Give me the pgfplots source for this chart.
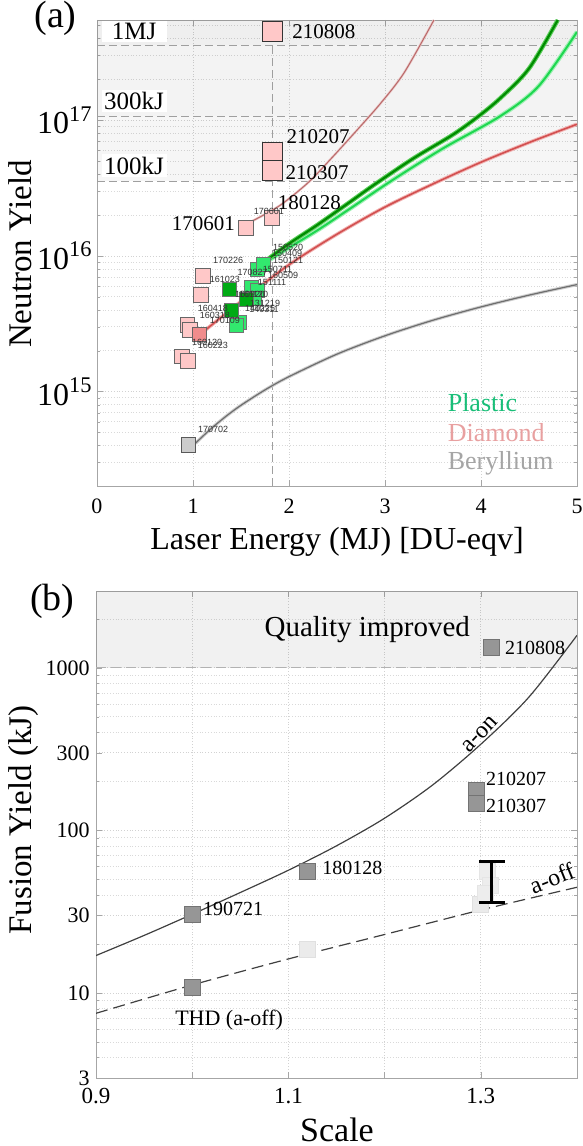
\documentclass[border=0pt]{standalone}
\usepackage{pgfplots}
\pgfplotsset{compat=1.18}
\usepackage{fontspec}
\setmainfont{Liberation Serif}
\newfontfamily\tinysans{Liberation Sans}
\definecolor{pinkfill}{RGB}{255,200,200}
\definecolor{redfill}{RGB}{240,140,140}
\definecolor{brightg}{RGB}{50,232,110}
\definecolor{darkg}{RGB}{0,170,20}
\definecolor{thinred}{RGB}{185,105,105}
\definecolor{thinredc}{RGB}{235,200,200}
\definecolor{lowred}{RGB}{210,80,80}
\definecolor{lowredc}{RGB}{242,180,180}
\definecolor{dgline}{RGB}{0,140,0}
\definecolor{dglinec}{RGB}{90,205,90}
\definecolor{bgline}{RGB}{30,215,80}
\definecolor{bglinec}{RGB}{160,240,180}
\definecolor{grline}{RGB}{110,110,110}
\definecolor{grlinec}{RGB}{205,205,205}
\definecolor{legplastic}{RGB}{25,190,120}
\definecolor{legdiamond}{RGB}{232,160,160}
\definecolor{legber}{RGB}{165,165,165}
\definecolor{sqdark}{RGB}{150,150,150}
\definecolor{sqlight}{RGB}{235,235,235}
\pgfplotsset{
  myaxis/.style={
    scale only axis, anchor=south west, clip marker paths=true,
    axis line style={gray!70}, tick style={gray!70},
    major tick length=3pt, minor tick length=1.5pt,
    grid=both,
    major grid style={densely dotted, gray!35, line width=0.4pt},
    minor grid style={densely dotted, gray!30, line width=0.4pt},
  },
}
\tikzset{
  tinylab/.style={font=\tinysans\fontsize{4.5}{4.5}\selectfont, inner sep=0pt, text=black!80},
  biglab/.style={font=\fontsize{10.5}{10.5}\selectfont, inner sep=0pt},
  blab/.style={font=\fontsize{10}{10}\selectfont, inner sep=0pt},
}
\begin{document}
\begin{tikzpicture}
\useasboundingbox (0,0) rectangle (291.5pt,573pt);
% ---------------- panel (a) ----------------
\begin{axis}[myaxis,
  at={(48.5pt,330pt)}, width=240pt, height=233pt,
  xmin=0, xmax=5, ymode=log, ymin=2.02e14, ymax=5.47e17,
  xtick={0,1,2,3,4,5}, xticklabels={0,1,2,3,4,5},
  ytick={1e15,1e16,1e17},
  yticklabels={10\textsuperscript{15},10\textsuperscript{16},10\textsuperscript{17}},
  minor ytick={3e14,4e14,5e14,6e14,7e14,8e14,9e14,2e15,3e15,4e15,5e15,6e15,7e15,8e15,9e15,2e16,3e16,4e16,5e16,6e16,7e16,8e16,9e16,2e17,3e17,4e17,5e17},
  xticklabel style={font=\fontsize{11}{11}\selectfont, yshift=-3pt},
  yticklabel style={font=\fontsize{16}{16}\selectfont, inner sep=2pt},
]
% shaded energy regions
\fill[black, opacity=0.035] (axis cs:0,3.55e16) rectangle (axis cs:5,5.47e17);
\fill[black, opacity=0.01] (axis cs:0,1.065e17) rectangle (axis cs:5,5.47e17);
\fill[black, opacity=0.015] (axis cs:0,3.55e17) rectangle (axis cs:5,5.47e17);
% dashed reference lines
\addplot[gray!75, dash pattern=on 4pt off 2pt, line width=0.5pt] coordinates {(0,3.55e16) (5,3.55e16)};
\addplot[gray!75, dash pattern=on 4pt off 2pt, line width=0.5pt] coordinates {(0,1.065e17) (5,1.065e17)};
\addplot[gray!75, dash pattern=on 4pt off 2pt, line width=0.5pt] coordinates {(0,3.55e17) (5,3.55e17)};
\addplot[gray!75, dash pattern=on 4pt off 2pt, line width=0.5pt] coordinates {(1.823,2.02e14) (1.823,5.47e17)};
% energy labels
\node[fill=white, inner sep=1.2pt, minimum width=32.5pt, anchor=south, font=\fontsize{12.5}{12.5}\selectfont, yshift=1.5pt] at (axis cs:0.386,3.55e17) {1MJ};
\node[fill=white, inner sep=1.2pt, minimum width=32.5pt, anchor=south, font=\fontsize{12.5}{12.5}\selectfont, yshift=2pt] at (axis cs:0.386,1.065e17) {300kJ};
\node[fill=white, inner sep=1.2pt, minimum width=32.5pt, anchor=south, font=\fontsize{12.5}{12.5}\selectfont, yshift=2pt] at (axis cs:0.386,3.55e16) {100kJ};
% beryllium curve
\addplot[grlinec, line width=1.6pt, smooth] coordinates {(1.026,4.17e14) (1.1,4.68e14) (1.2,5.43e14) (1.35,6.64e14) (1.5,7.94e14) (1.75,1.03e15) (2.0,1.29e15) (2.5,1.89e15) (3.0,2.58e15) (3.5,3.36e15) (4.0,4.21e15) (4.5,5.14e15) (5.0,6.15e15)};
\addplot[grline, line width=0.6pt, smooth] coordinates {(1.026,4.17e14) (1.1,4.68e14) (1.2,5.43e14) (1.35,6.64e14) (1.5,7.94e14) (1.75,1.03e15) (2.0,1.29e15) (2.5,1.89e15) (3.0,2.58e15) (3.5,3.36e15) (4.0,4.21e15) (4.5,5.14e15) (5.0,6.15e15)};
% lower diamond curve
\addplot[lowredc, line width=1.8pt, smooth] coordinates {(1.07,2.63e15) (1.5,4.62e15) (2.0,8.61e15) (2.5,1.445e16) (3.0,2.29e16) (3.5,3.39e16) (4.0,4.90e16) (4.5,6.84e16) (5.0,9.33e16)};
\addplot[lowred, line width=0.8pt, smooth] coordinates {(1.07,2.63e15) (1.5,4.62e15) (2.0,8.61e15) (2.5,1.445e16) (3.0,2.29e16) (3.5,3.39e16) (4.0,4.90e16) (4.5,6.84e16) (5.0,9.33e16)};
% upper thin diamond curve
\addplot[thinredc, line width=1.2pt, smooth] coordinates {(1.6,1.78e16) (1.9,2.34e16) (2.2,3.47e16) (2.43,5.13e16) (2.7,8.32e16) (2.95,1.32e17) (3.2,2.24e17) (3.51,5.47e17)};
\addplot[thinred, line width=0.5pt, smooth] coordinates {(1.6,1.78e16) (1.9,2.34e16) (2.2,3.47e16) (2.43,5.13e16) (2.7,8.32e16) (2.95,1.32e17) (3.2,2.24e17) (3.51,5.47e17)};
% bright green curve
\addplot[bglinec, line width=2.2pt, smooth] coordinates {(1.75,8.91e15) (2.0,1.15e16) (2.3,1.55e16) (2.64,2.24e16) (3.06,3.55e16) (3.6,6.17e16) (4.2,1.07e17) (4.6,1.78e17) (5.0,4.47e17)};
\addplot[bgline, line width=1.0pt, smooth] coordinates {(1.75,8.91e15) (2.0,1.15e16) (2.3,1.55e16) (2.64,2.24e16) (3.06,3.55e16) (3.6,6.17e16) (4.2,1.07e17) (4.6,1.78e17) (5.0,4.47e17)};
% dark green curve
\addplot[dglinec, line width=2.2pt, smooth] coordinates {(1.75,9.12e15) (2.0,1.23e16) (2.3,1.70e16) (2.64,2.51e16) (2.9,3.39e16) (3.3,5.25e16) (3.7,7.76e16) (3.96,1.05e17) (4.2,1.45e17) (4.5,2.40e17) (4.8,5.47e17)};
\addplot[dgline, line width=1.1pt, smooth] coordinates {(1.75,9.12e15) (2.0,1.23e16) (2.3,1.70e16) (2.64,2.51e16) (2.9,3.39e16) (3.3,5.25e16) (3.7,7.76e16) (3.96,1.05e17) (4.2,1.45e17) (4.5,2.40e17) (4.8,5.47e17)};
% beryllium point
\addplot[only marks, mark=square*, mark size=3.6pt, mark options={fill=black!20, draw=black!65, line width=0.4pt}] coordinates {(0.95,4.05e14)};
% diamond points
\addplot[only marks, mark=square*, mark size=3.7pt, mark options={fill=pinkfill, draw=black!60, line width=0.4pt}] coordinates {
(0.882,1.82e15) (0.944,1.69e15) (0.941,3.12e15) (0.969,2.87e15) (1.080,5.14e15) (1.101,7.1e15) (1.549,1.61e16) (1.820,1.91e16)};
\addplot[only marks, mark=square*, mark size=3.7pt, mark options={fill=redfill, draw=black!60, line width=0.4pt}] coordinates {(1.066,2.64e15)};
\addplot[only marks, mark=square*, mark size=5pt, mark options={fill=pinkfill, draw=black!80, line width=0.5pt}] coordinates {(1.823,4.51e17) (1.823,5.82e16) (1.823,4.27e16)};
% plastic points
\addplot[only marks, mark=square*, mark size=3.5pt, mark options={fill=brightg, draw=black!55, line width=0.4pt}] coordinates {
(1.67,8.0e15) (1.733,8.6e15) (1.604,5.86e15) (1.67,5.53e15) (1.64,4.9e15) (1.483,3.26e15) (1.448,3.08e15)};
\addplot[only marks, mark=square*, mark size=3.5pt, mark options={fill=darkg, draw=black!55, line width=0.4pt}] coordinates {
(1.378,5.66e15) (1.559,4.78e15) (1.403,3.98e15)};
% tiny labels
\node[tinylab] at (axis cs:1.79,2.12e16) {170601};
\node[tinylab] at (axis cs:1.365,9.2e15) {170226};
\node[tinylab] at (axis cs:1.333,6.76e15) {161023};
\node[tinylab] at (axis cs:1.99,1.15e16) {150520};
\node[tinylab] at (axis cs:1.98,1.04e16) {150409};
\node[tinylab] at (axis cs:1.99,9.2e15) {150121};
\node[tinylab] at (axis cs:1.62,7.5e15) {170827};
\node[tinylab] at (axis cs:1.88,7.9e15) {150711};
\node[tinylab] at (axis cs:1.94,7.2e15) {160509};
\node[tinylab] at (axis cs:1.823,6.4e15) {151111};
\node[tinylab] at (axis cs:1.594,5.2e15) {160920};
\node[tinylab] at (axis cs:1.63,5.2e15) {161120};
\node[tinylab] at (axis cs:1.75,4.5e15) {131219};
\node[tinylab] at (axis cs:1.70,4.1e15) {140225};
\node[tinylab] at (axis cs:1.74,4.05e15) {140311};
\node[tinylab] at (axis cs:1.208,4.12e15) {160418};
\node[tinylab] at (axis cs:1.229,3.66e15) {160318};
\node[tinylab] at (axis cs:1.333,3.36e15) {170109};
\node[tinylab] at (axis cs:1.146,2.31e15) {160120};
\node[tinylab] at (axis cs:1.208,2.19e15) {160223};
\node[tinylab] at (axis cs:1.21,5.25e14) {170702};
% big labels
\node[biglab, anchor=west] at (axis cs:2.03,4.51e17) {210808};
\node[biglab, anchor=west] at (axis cs:1.97,7.6e16) {210207};
\node[biglab, anchor=west] at (axis cs:1.96,4.12e16) {210307};
\node[biglab, anchor=west] at (axis cs:1.88,2.45e16) {180128};
\node[biglab, anchor=east] at (axis cs:1.44,1.73e16) {170601};
% legend text
\node[anchor=west, inner sep=0pt, font=\fontsize{13}{13}\selectfont, text=legplastic] at (axis cs:3.65,8.3e14) {Plastic};
\node[anchor=west, inner sep=0pt, font=\fontsize{13}{13}\selectfont, text=legdiamond] at (axis cs:3.65,5.0e14) {Diamond};
\node[anchor=west, inner sep=0pt, font=\fontsize{13}{13}\selectfont, text=legber] at (axis cs:3.65,2.95e14) {Beryllium};
\end{axis}
\node[anchor=center, font=\fontsize{16}{16}\selectfont] at (168.5pt,302pt) {Laser Energy (MJ) [DU-eqv]};
\node[anchor=center, rotate=90, font=\fontsize{16.5}{16.5}\selectfont] at (10pt,446pt) {Neutron Yield};
\node[anchor=east, inner sep=0pt, font=\fontsize{19}{19}\selectfont] at (38.5pt,564pt) {(a)};
% ---------------- panel (b) ----------------
\begin{axis}[myaxis,
  at={(48pt,34pt)}, width=240.5pt, height=243.5pt,
  xmin=0.9, xmax=1.4, ymode=log, ymin=3, ymax=2970,
  xtick={0.9,1.0,1.1,1.2,1.3,1.4}, xticklabels={0.9,,1.1,,1.3,},
  ytick={3,10,30,100,300,1000}, yticklabels={3,10,30,100,300,1000},
  minor ytick={4,5,6,7,8,9,20,40,50,60,70,80,90,200,400,500,600,700,800,900,2000},
  xticklabel style={font=\fontsize{11.5}{11.5}\selectfont, yshift=-1.5pt},
  yticklabel style={font=\fontsize{11}{11}\selectfont, inner sep=3pt},
]
\fill[black, opacity=0.055] (axis cs:0.9,1000) rectangle (axis cs:1.4,2970);
\addplot[gray!60, dash pattern=on 5pt off 2.5pt, line width=0.5pt] coordinates {(0.9,1000) (1.4,1000)};
% a-on curve
\addplot[black!75, line width=0.6pt, smooth] coordinates {(0.9,17.0) (0.95,22.6) (1.0,30.5) (1.05,41.5) (1.1,56.9) (1.15,80.4) (1.2,118.9) (1.25,190.5) (1.3,338.8) (1.35,660.7) (1.4,1585)};
% a-off curve
\addplot[black!75, line width=0.6pt, dash pattern=on 6pt off 3pt, smooth] coordinates {(0.9,7.5) (1.0,11.2) (1.1,16.2) (1.2,22.9) (1.3,32.4) (1.4,44.7)};
% faint squares
\addplot[only marks, mark=square*, mark size=4pt, mark options={fill=sqlight, draw=black!12, line width=0.3pt}] coordinates {(1.12,18.5) (1.3,35)};
\addplot[only marks, mark=square*, mark size=4pt, mark options={fill=black!7, draw=black!10, line width=0.3pt}] coordinates {(1.307,56) (1.31,46) (1.305,41)};
% error bar
\addplot[black, line width=1.6pt] coordinates {(1.311,36.1) (1.311,64.6)};
\addplot[black, line width=1.6pt] coordinates {(1.298,64.6) (1.325,64.6)};
\addplot[black, line width=1.6pt] coordinates {(1.298,36.1) (1.325,36.1)};
% dark squares
\addplot[only marks, mark=square*, mark size=4pt, mark options={fill=sqdark, draw=black!55, line width=0.4pt}] coordinates {(1.311,1330) (1.295,177) (1.295,147) (1.12,56) (1.0,30.5) (1.0,10.9)};
% labels
\node[anchor=center, inner sep=0pt, font=\fontsize{14.5}{14.5}\selectfont] at (axis cs:1.182,1710) {Quality improved};
\node[blab, anchor=west] at (axis cs:1.325,1330) {210808};
\node[blab, anchor=west] at (axis cs:1.305,206) {210207};
\node[blab, anchor=west] at (axis cs:1.305,142) {210307};
\node[blab, anchor=west] at (axis cs:1.135,59) {180128};
\node[blab, anchor=west] at (axis cs:1.011,33) {190721};
\node[anchor=west, inner sep=0pt, font=\fontsize{11}{11}\selectfont] at (axis cs:0.982,6.8) {THD (a-off)};
\node[inner sep=0pt, rotate=47, font=\fontsize{12}{12}\selectfont] at (axis cs:1.299,390) {a-on};
\node[inner sep=0pt, rotate=22, font=\fontsize{12}{12}\selectfont] at (axis cs:1.374,51) {a-off};
\end{axis}
\node[anchor=center, font=\fontsize{17}{17}\selectfont] at (168.5pt,8pt) {Scale};
\node[anchor=center, rotate=90, font=\fontsize{16.5}{16.5}\selectfont] at (12pt,163pt) {Fusion Yield (kJ)};
\node[anchor=east, inner sep=0pt, font=\fontsize{19}{19}\selectfont] at (37.5pt,272.5pt) {(b)};
\end{tikzpicture}
\end{document}
